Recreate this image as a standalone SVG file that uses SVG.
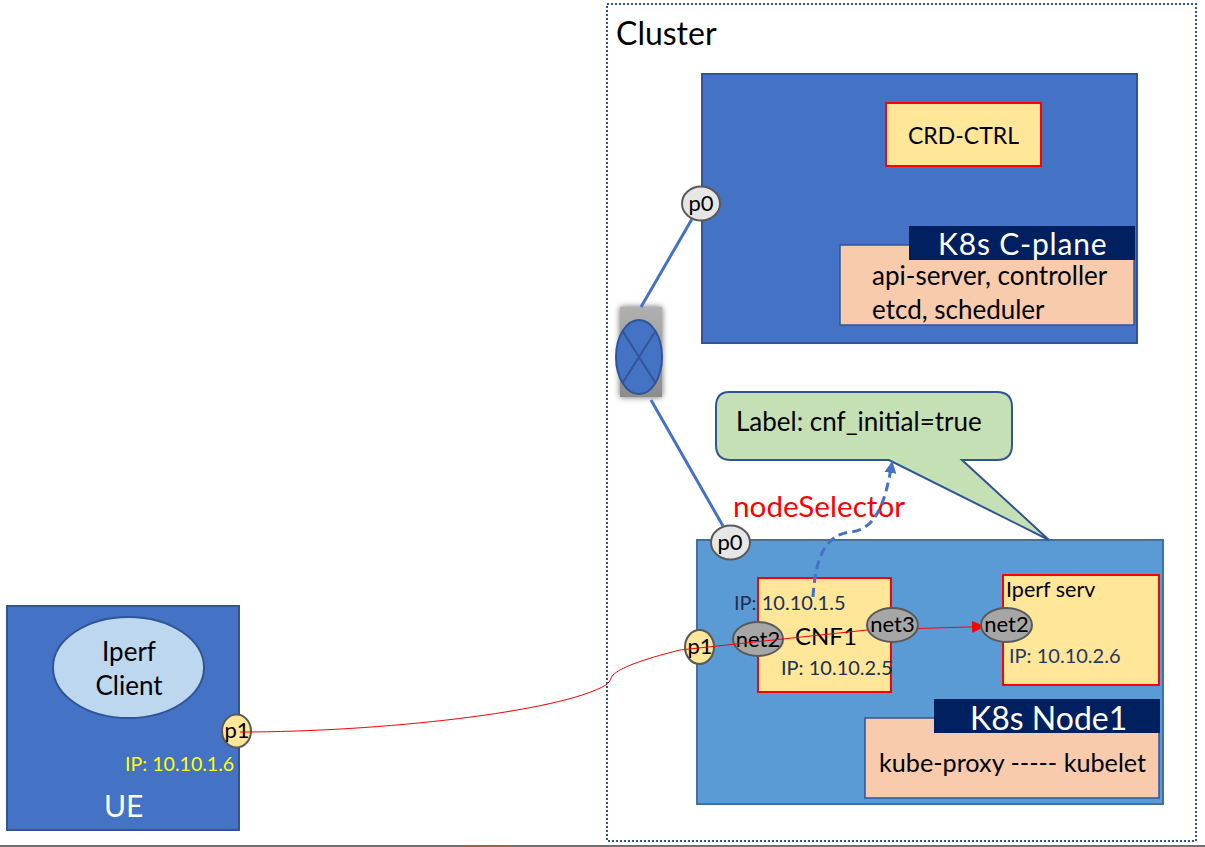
<svg xmlns="http://www.w3.org/2000/svg" width="1205" height="847" viewBox="0 0 1205 847">
<defs>
<style>
text{font-family:Lato,"Open Sans","Liberation Sans",sans-serif;fill:#000}
.t{font-size:26px}
.s{font-size:22px}
.ip{font-size:20px;fill:#1f3864}
.box{fill:#4472c4;stroke:#2f5597;stroke-width:2}
.y{fill:#ffe699;stroke:#f00;stroke-width:2}
.p{fill:#f8cbad;stroke:#2f5597;stroke-width:1.500}
.bar{fill:#002060}
.g{fill:#a6a6a6;stroke:#595959;stroke-width:2}
.w{fill:#e7e6e6;stroke:#595959;stroke-width:2}
.py{fill:#ffe699;stroke:#595959;stroke-width:2}
.lnk{fill:none;stroke:#4472c4;stroke-width:3}
</style>
<marker id="a" markerWidth="13" markerHeight="12" refX="13" refY="6" orient="auto" markerUnits="userSpaceOnUse"><path d="M0 0L13 6L0 12Z" fill="#f00"/></marker>
<marker id="b" markerWidth="12" markerHeight="12" refX="10" refY="6" orient="auto" markerUnits="userSpaceOnUse"><path d="M0 0L12 6L0 12Z" fill="#4472c4"/></marker>
<filter id="sh" x="-40%" y="-20%" width="180%" height="140%"><feGaussianBlur stdDeviation="3"/></filter>
<linearGradient id="gr" x1="0" y1="0" x2="0" y2="1"><stop offset="0" stop-color="#b0b0b0"/><stop offset="1" stop-color="#8c8c8c"/></linearGradient>
</defs>
<rect width="1205" height="847" fill="#fff"/>
<path d="M0 846H1205" stroke="#404040" stroke-width="1.500"/>
<path d="M464 846H512" stroke="#c55a11" stroke-width="1.500"/>
<g id="cluster"><rect x="607" y="4" width="589" height="837" fill="none" stroke="#2f5597" stroke-width="2" stroke-dasharray="2 2"/><text x="616" y="45" font-size="32">Cluster</text></g>
<g id="cplane"><rect class="box" x="702" y="74" width="435" height="269"/></g>
<g id="crd"><rect class="y" x="886" y="103" width="155" height="63"/><text x="963.500" y="144" font-size="23" text-anchor="middle">CRD-CTRL</text></g>
<g id="cplane-services"><rect class="p" x="840" y="245" width="294" height="80"/><rect class="bar" x="909" y="226" width="226" height="34"/><text x="938" y="255" font-size="30" letter-spacing=".8" style="fill:#fff">K8s C-plane</text><text class="t" x="872" y="285">api-server, controller</text><text class="t" x="872" y="319">etcd, scheduler</text></g>
<g id="node1"><rect x="697" y="540" width="466" height="264" fill="#5b9bd5" stroke="#41719c" stroke-width="2"/></g>
<g id="node-services"><rect class="p" x="865" y="718" width="294" height="80"/><rect class="bar" x="934" y="699" width="226" height="34"/><text x="970" y="730" font-size="32" style="fill:#fff">K8s Node1</text><text x="879" y="772" font-size="25.200">kube-proxy ----- kubelet</text></g>
<g id="cnf1"><rect class="y" x="758" y="578" width="133" height="114"/><text x="795" y="645" font-size="24">CNF1</text><text class="ip" x="734" y="610" style="fill:#203050">IP: 10.10.1.5</text><text class="ip" x="781" y="675" style="fill:#203050">IP: 10.10.2.5</text></g>
<g id="iperf-serv"><rect class="y" x="1003" y="575" width="156" height="110"/><text x="1006" y="597" font-size="21.500">Iperf serv</text><text class="ip" x="1009" y="663">IP: 10.10.2.6</text></g>
<g id="ue"><rect class="box" x="7" y="606" width="232" height="224"/><text x="104" y="817" font-size="30" style="fill:#fff">UE</text><text x="125" y="771" font-size="19.600" style="fill:#ff0">IP: 10.10.1.6</text></g>
<g id="iperf-client"><ellipse cx="128.500" cy="667.500" rx="75.500" ry="50.500" fill="#bdd7ee" stroke="#2f5597" stroke-width="2"/><text class="t" x="129" y="661" text-anchor="middle">Iperf</text><text class="t" x="129" y="695" text-anchor="middle">Client</text></g>
<g id="callout"><path d="M729 392H997Q1012 392 1012 407V445Q1012 460 997 460H962L1049 540L889 460H731Q716 460 716 445V407Q716 392 729 392Z" fill="#c5e0b4" stroke="#2f5597" stroke-width="2"/><text class="t" x="736" y="431">Label: cnf_initial=true</text></g>
<g id="switch"><rect x="620" y="307" width="42" height="90" fill="#000" opacity=".6" filter="url(#sh)"/><rect x="620" y="307" width="42" height="90" fill="url(#gr)"/><ellipse cx="639" cy="357" rx="23" ry="37" fill="#4472c4" stroke="#2f5597" stroke-width="2"/><path d="M622.500 331L655.500 383M655.500 331L622.500 383" stroke="#2f5597" stroke-width="2"/></g>
<g id="p0-cplane"><ellipse class="w" cx="701" cy="203.500" rx="19" ry="17"/><text class="s" x="701" y="211" text-anchor="middle">p0</text></g>
<g id="p0-node"><ellipse class="w" cx="730.500" cy="542.500" rx="19.500" ry="17"/><text class="s" x="730" y="550" text-anchor="middle">p0</text></g>
<g id="p1-node"><ellipse class="py" cx="699.500" cy="647" rx="14.500" ry="17"/><text class="s" x="700" y="654" text-anchor="middle">p1</text></g>
<g id="p1-ue"><ellipse class="py" cx="236.500" cy="731" rx="14.500" ry="16.500"/><text class="s" x="237" y="738" text-anchor="middle">p1</text></g>
<g id="net2-cnf"><ellipse class="g" cx="758" cy="639" rx="25" ry="17"/><text class="s" x="758" y="647" text-anchor="middle">net2</text></g>
<g id="node-selector"><text x="733" y="517" font-size="29.700" style="fill:#f00">nodeSelector</text></g>
<g id="connectors">
<path class="lnk" d="M641 307L692 219"/>
<path class="lnk" d="M651 400L723 526"/>
<path d="M813 597C815 565 822 535 850 532C875 530 885 505 892 463" fill="none" stroke="#4472c4" stroke-width="3" stroke-dasharray="9 5" marker-end="url(#b)"/>
<path d="M240 732C380 732 560 712 606 685C612 680 610 678 613 675C620 668 640 660 680 650L867 630L985 626.500" fill="none" stroke="#f00" stroke-width="1" marker-end="url(#a)"/>
</g>
<g id="net3"><ellipse class="g" cx="892.500" cy="625" rx="25.500" ry="17"/><text class="s" x="892.500" y="632" text-anchor="middle">net3</text></g>
<g id="net2-serv"><ellipse class="g" cx="1006.500" cy="625" rx="25.500" ry="17"/><text class="s" x="1006.500" y="632" text-anchor="middle">net2</text></g>
</svg>
